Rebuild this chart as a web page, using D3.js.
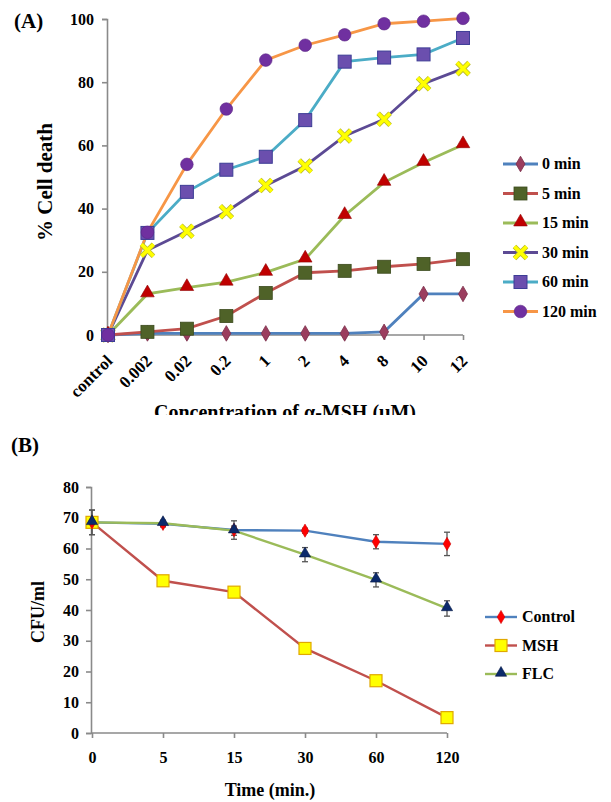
<!DOCTYPE html>
<html><head><meta charset="utf-8">
<script src="https://cdn.jsdelivr.net/npm/d3@7"></script>
<style>
body{margin:0;background:#fff}
svg{display:block}
text{font-family:"Liberation Serif","Times New Roman",serif;font-weight:bold;fill:#000}
</style>
</head><body><svg id="c" width="611" height="802"></svg>
<script>
// ---------- Panel A data ----------
const concentrations = ["control","0.002","0.02","0.2","1","2","4","8","10","12"];
const seriesA = ["0 min","5 min","15 min","30 min","60 min","120 min"];
const min0   = [0,0.5,0.5,0.5,0.5,0.5,0.5,1,13,13];
const min5   = [0,1,2,6,13.3,19.7,20.3,21.6,22.5,24];
const min15  = [0,13,15,16.7,19.8,24,37.8,48.3,54.6,60.2];
const min30  = [0,26.8,32.8,39,47.3,53.5,63,68.3,79.5,84.3];
const min60  = [0,32.3,45.3,52.3,56.4,68,86.5,87.8,88.8,94];
const min120 = [0,32.5,54,71.5,87,91.7,95,98.5,99.3,100.2];
const yTicksA = [0,20,40,60,80,100];

// ---------- Panel B data ----------
const times = ["0","5","15","30","60","120"];
const seriesB = ["Control","MSH","FLC"];
const control    = [68.5,68,66,65.8,62.2,61.5];
const controlErr = [4,1,3,0.8,2.3,3.8];
const msh        = [68.5,49.5,45.8,27.5,17,5];
const flc        = [68.5,68.2,65.8,58,49.8,40.5];
const flcErr     = [4,1,1.5,2.3,2.3,2.5];
const yTicksB = [0,10,20,30,40,50,60,70,80];

const svg = d3.select("#c");
const axisColor = "#8a8a8a";

function marker(g, type, x, y) {
  const sel = g.append("g").attr("transform", `translate(${x},${y})`);
  if (type === "diamondA") {
    sel.append("path").attr("d", d3.symbol(d3.symbolDiamond, 70)()).attr("fill", "#9b3d5e").attr("stroke", "#7a2c48").attr("stroke-width", 0.8);
  } else if (type === "squareG") {
    sel.append("rect").attr("x", -6.5).attr("y", -6.5).attr("width", 13).attr("height", 13).attr("fill", "#4f6228").attr("stroke", "#3b4a1d").attr("stroke-width", 0.8);
  } else if (type === "triR") {
    sel.append("path").attr("d", d3.symbol(d3.symbolTriangle, 80)()).attr("transform","translate(0,-1)").attr("fill", "#c00000").attr("stroke", "#900000").attr("stroke-width", 0.6);
  } else if (type === "xY") {
    sel.append("path").attr("d", "M-6,-6L6,6M-6,6L6,-6").attr("stroke", "#b8b830").attr("stroke-width", 5);
    sel.append("path").attr("d", "M-6,-6L6,6M-6,6L6,-6").attr("stroke", "#ffff00").attr("stroke-width", 3.5);
  } else if (type === "squareP") {
    sel.append("rect").attr("x", -6.5).attr("y", -6.5).attr("width", 13).attr("height", 13).attr("fill", "#6b4fae").attr("stroke", "#3d3d96").attr("stroke-width", 1);
  } else if (type === "circP") {
    sel.append("circle").attr("r", 6.3).attr("fill", "#7030a0").attr("stroke", "#5a2585").attr("stroke-width", 0.6);
  } else if (type === "diamondR") {
    sel.append("path").attr("d", d3.symbol(d3.symbolDiamond, 50)()).attr("fill", "#ff0000").attr("stroke", "#cc0000").attr("stroke-width", 0.6);
  } else if (type === "squareY") {
    sel.append("rect").attr("x", -6).attr("y", -6).attr("width", 12).attr("height", 12).attr("fill", "#ffff00").attr("stroke", "#e0a800").attr("stroke-width", 1.2);
  } else if (type === "triN") {
    sel.append("path").attr("d", d3.symbol(d3.symbolTriangle, 55)()).attr("transform","translate(0,-1)").attr("fill", "#0b2a6b").attr("stroke", "#061a45").attr("stroke-width", 0.6);
  }
}

// ================= Panel A =================
svg.append("defs").append("clipPath").attr("id","clipA").append("rect").attr("x",0).attr("y",0).attr("width",611).attr("height",415);
const gA = svg.append("g").attr("clip-path","url(#clipA)");

const xA = d3.scalePoint().domain(concentrations).range([108, 463]).padding(0);
const yA = d3.scaleLinear().domain([0, 100]).range([335, 19]);

const yAxA = gA.append("g").attr("transform", "translate(107,0)")
  .call(d3.axisLeft(yA).tickValues(yTicksA).tickSize(5).tickPadding(8));
const xAxA = gA.append("g").attr("transform", "translate(0,335)")
  .call(d3.axisBottom(xA).tickSize(5));
[yAxA, xAxA].forEach(a => {
  a.selectAll("path,line").attr("stroke", axisColor).attr("stroke-width", 1.6);
  a.selectAll("text").style("font-size", "16px");
});
xAxA.select(".domain").attr("d", `M${xA("control")},0H${xA("12")}`);
xAxA.selectAll("text")
  .style("font-size", "17px")
  .attr("text-anchor", "end")
  .attr("dy", null).attr("y", 0).attr("x", 0)
  .attr("transform", "translate(5,27) rotate(-45)");

const dataA = [min0, min5, min15, min30, min60, min120];
const lineColA = ["#4f81bd", "#c0504d", "#9bbb59", "#5c4a94", "#4bacc6", "#f79646"];
const markA = ["diamondA", "squareG", "triR", "xY", "squareP", "circP"];
const lineA = d3.line().x((d, i) => xA(concentrations[i])).y(d => yA(d));

dataA.forEach((vals, si) => {
  gA.append("path").datum(vals).attr("d", lineA).attr("fill", "none")
    .attr("stroke", lineColA[si]).attr("stroke-width", 2.8);
});
dataA.forEach((vals, si) => {
  vals.forEach((v, i) => marker(gA, markA[si], xA(concentrations[i]), yA(v)));
});

gA.append("text").attr("x", 14).attr("y", 28).style("font-size", "21px").text("(A)");
gA.append("text").attr("transform", "translate(52,182) rotate(-90)").attr("text-anchor", "middle")
  .style("font-size", "21px").text("% Cell death");
gA.append("text").attr("x", 285).attr("y", 419).attr("text-anchor", "middle")
  .style("font-size", "20px").text("Concentration of α-MSH (μM)");

const legA = gA.append("g");
seriesA.forEach((s, i) => {
  const y = 164 + i * 29.5;
  legA.append("line").attr("x1", 503).attr("x2", 538).attr("y1", y).attr("y2", y).attr("stroke", lineColA[i]).attr("stroke-width", 2.8);
  marker(legA, markA[i], 520.5, y);
  legA.append("text").attr("x", 542).attr("y", y + 5).style("font-size", "16px").text(s);
});

// ================= Panel B =================
const gB = svg.append("g");
const xB = d3.scalePoint().domain(times).range([92, 447]).padding(0);
const yB = d3.scaleLinear().domain([0, 80]).range([733, 487]);

const yAxB = gB.append("g").attr("transform", "translate(91,0)")
  .call(d3.axisLeft(yB).tickValues(yTicksB).tickSize(5).tickPadding(7));
const xAxB = gB.append("g").attr("transform", "translate(0,733)")
  .call(d3.axisBottom(xB).tickSize(5).tickPadding(14));
[yAxB, xAxB].forEach(a => {
  a.selectAll("path,line").attr("stroke", axisColor).attr("stroke-width", 1.6);
  a.selectAll("text").style("font-size", "16px");
});
xAxB.select(".domain").attr("d", `M${xB("0")},0H${xB("120")}`);

const dataB = [control, msh, flc];
const errB = [controlErr, null, flcErr];
const lineColB = ["#4f81bd", "#c0504d", "#9bbb59"];
const markB = ["diamondR", "squareY", "triN"];
const lineB = d3.line().x((d, i) => xB(times[i])).y(d => yB(d));

dataB.forEach((vals, si) => {
  gB.append("path").datum(vals).attr("d", lineB).attr("fill", "none")
    .attr("stroke", lineColB[si]).attr("stroke-width", 2.4);
});
errB.forEach((errs, si) => {
  if (!errs) return;
  dataB[si].forEach((v, i) => {
    const x = xB(times[i]);
    const e = errs[i];
    const g = gB.append("g").attr("stroke", "#555").attr("stroke-width", 1.3);
    g.append("line").attr("x1", x).attr("x2", x).attr("y1", yB(v - e)).attr("y2", yB(v + e));
    g.append("line").attr("x1", x - 3).attr("x2", x + 3).attr("y1", yB(v - e)).attr("y2", yB(v - e));
    g.append("line").attr("x1", x - 3).attr("x2", x + 3).attr("y1", yB(v + e)).attr("y2", yB(v + e));
  });
});
[1, 0, 2].forEach(si => {
  dataB[si].forEach((v, i) => marker(gB, markB[si], xB(times[i]), yB(v)));
});

gB.append("text").attr("x", 11).attr("y", 452).style("font-size", "21px").text("(B)");
gB.append("text").attr("transform", "translate(44,612) rotate(-90)").attr("text-anchor", "middle")
  .style("font-size", "18px").text("CFU/ml");
gB.append("text").attr("x", 270).attr("y", 796).attr("text-anchor", "middle")
  .style("font-size", "18px").text("Time (min.)");

const legB = gB.append("g");
seriesB.forEach((s, i) => {
  const y = 617 + i * 28.5;
  legB.append("line").attr("x1", 485).attr("x2", 517).attr("y1", y).attr("y2", y).attr("stroke", lineColB[i]).attr("stroke-width", 2.4);
  marker(legB, markB[i], 501, y);
  legB.append("text").attr("x", 522).attr("y", y + 5).style("font-size", "16px").text(s);
});
</script>
</body></html>
